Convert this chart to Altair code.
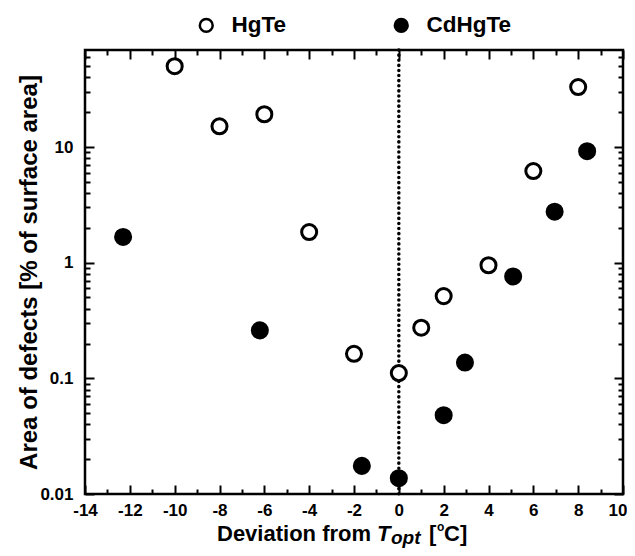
import altair as alt
import pandas as pd

# ---- data ----
hgte_x = [-10, -8, -6, -4, -2, 0, 1, 2, 4, 6, 8]
hgte_y = [50, 15.1, 19.2, 1.84, 0.163, 0.111, 0.274, 0.514, 0.95, 6.2, 33]
cdhgte_x = [-12.3, -6.2, -1.65, 0, 2, 2.95, 5.1, 6.95, 8.4]
cdhgte_y = [1.67, 0.26, 0.0175, 0.0137, 0.048, 0.137, 0.76, 2.76, 9.2]
series_names = ["HgTe", "CdHgTe"]
series_fill = ["white", "black"]

x_major = [-14, -12, -10, -8, -6, -4, -2, 0, 2, 4, 6, 8, 10]
x_labels_main = [-14, -12, -10, -8, -6, -4, -2, 0, 2, 4, 6, 8]
x_labels_edge = [10]
x_minor = [-13, -11, -9, -7, -5, -3, -1, 1, 3, 5, 7, 9]
y_major = [0.01, 0.1, 1, 10]
y_minor = [0.02, 0.03, 0.04, 0.05, 0.06, 0.07, 0.08, 0.09,
           0.2, 0.3, 0.4, 0.5, 0.6, 0.7, 0.8, 0.9,
           2, 3, 4, 5, 6, 7, 8, 9,
           20, 30, 40, 50, 60]
rule_x = [0]

df = pd.DataFrame({
    "x": hgte_x + cdhgte_x,
    "y": hgte_y + cdhgte_y,
    "series": ["HgTe"] * len(hgte_x) + ["CdHgTe"] * len(cdhgte_x),
})

FONT = "Liberation Sans"
W, H = 538, 444
xs = alt.Scale(domain=[-14, 10], nice=False, zero=False)
ys = alt.Scale(type="log", domain=[0.01, 69], nice=False)

label_style = dict(labelFontSize=17, labelFont=FONT, labelFontWeight="bold",
                   labelColor="black", labelOverlap=False)

points = alt.Chart(df).mark_point(
    shape="circle", filled=True, size=227, stroke="black", strokeWidth=3, opacity=1
).encode(
    x=alt.X("x:Q", scale=xs, axis=alt.Axis(
        orient="bottom", values=x_labels_main, labelExpr="'' + datum.value",
        ticks=False, domain=False, grid=False, labelPadding=8, labelFlush=False,
        title=None, **label_style)),
    y=alt.Y("y:Q", scale=ys, axis=alt.Axis(
        orient="left", values=y_major, format="~g", ticks=False, domain=False, grid=False,
        labelPadding=12, labelFlush=False,
        title="Area of defects [% of surface area]", titleFont=FONT, titleFontSize=24,
        titleFontWeight="bold", titleColor="black", titlePadding=-2, **label_style)),
    fill=alt.Fill("series:N", scale=alt.Scale(domain=series_names, range=series_fill),
                  legend=alt.Legend(
                      orient="none", legendX=110, legendY=-36, direction="horizontal",
                      title=None, symbolType="circle", symbolSize=165,
                      symbolStrokeColor="black", symbolStrokeWidth=2.5, symbolOpacity=1,
                      labelFont=FONT, labelFontSize=22.5, labelFontWeight="bold",
                      labelColor="black", labelOffset=14, columnPadding=102, padding=0)),
)

edge_label = alt.Chart(df).mark_point(opacity=0).encode(
    x=alt.X("x:Q", scale=xs, axis=alt.Axis(
        orient="bottom", values=x_labels_edge, labelExpr="'' + datum.value",
        ticks=False, domain=False, grid=False, labelPadding=8, labelFlush=True,
        labelFlushOffset=4, title=None, **label_style)),
    y=alt.Y("y:Q", scale=ys, axis=None),
)

rule = alt.Chart(pd.DataFrame({"x": rule_x})).mark_rule(
    color="black", strokeWidth=3.5, strokeDash=[0.1, 5], strokeCap="round"
).encode(x=alt.X("x:Q", scale=xs, axis=None))


def x_ticks(orient, values, size):
    return alt.Chart(df).mark_point(opacity=0).encode(
        x=alt.X("x:Q", scale=xs, axis=alt.Axis(
            orient=orient, values=values, tickSize=size, offset=-size, labels=False,
            domain=False, grid=False, title=None, tickColor="black", tickWidth=2)),
        y=alt.Y("y:Q", scale=ys, axis=None),
    )


def y_ticks(orient, values, size):
    return alt.Chart(df).mark_point(opacity=0).encode(
        x=alt.X("x:Q", scale=xs, axis=None),
        y=alt.Y("y:Q", scale=ys, axis=alt.Axis(
            orient=orient, values=values, tickSize=size, offset=-size, labels=False,
            domain=False, grid=False, title=None, tickColor="black", tickWidth=2)),
    )


one = alt.Data(values=[{"k": 0}])


def txt(s, xpx, ypx, size, style="normal"):
    return alt.Chart(one).mark_text(
        text=s, font=FONT, fontSize=size, fontWeight="bold", fontStyle=style,
        align="left", baseline="alphabetic", color="black"
    ).encode(x=alt.value(xpx), y=alt.value(ypx))


title_parts = [
    txt("Deviation from", 132, 491, 22),
    txt("T", 292, 491, 22, "italic"),
    txt("opt", 306, 494, 19, "italic"),
    txt("[", 344, 491, 22),
    txt("o", 352, 481, 12),
    txt("C]", 359, 491, 22),
]

chart = alt.layer(
    rule, points, edge_label,
    x_ticks("bottom", x_major, 9), x_ticks("bottom", x_minor, 5),
    x_ticks("top", x_major, 9), x_ticks("top", x_minor, 5),
    y_ticks("left", y_major, 9), y_ticks("left", y_minor, 5),
    y_ticks("right", y_major, 9), y_ticks("right", y_minor, 5),
    *title_parts,
).resolve_axis(x="independent", y="independent").properties(
    width=W, height=H,
    autosize=alt.AutoSizeParams(type="none"),
    padding={"left": 77, "top": 42, "right": 4, "bottom": 54},
    background="white",
).configure_view(stroke="black", strokeWidth=2.5)

chart.save("out.html", embed_options={"renderer": "svg", "actions": False})
